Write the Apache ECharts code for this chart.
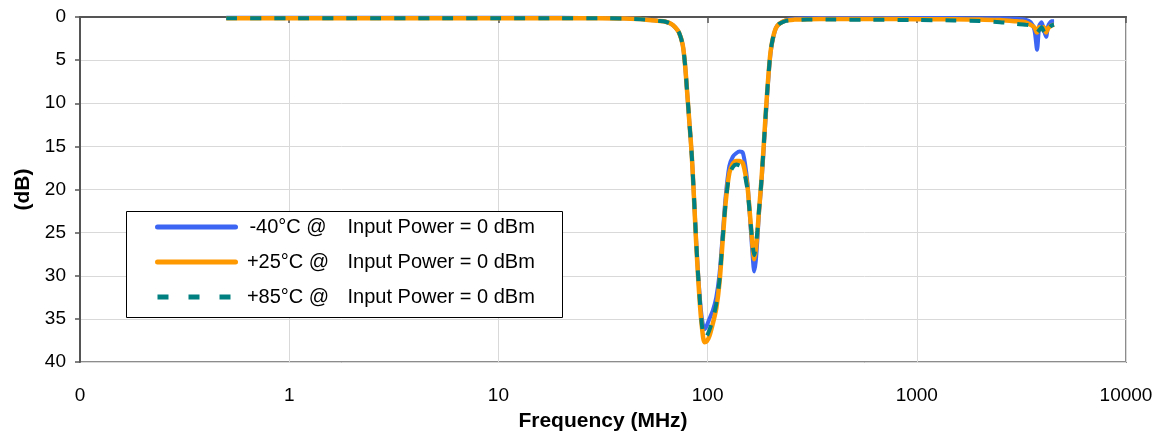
<!DOCTYPE html>
<html>
<head>
<meta charset="utf-8">
<script src="https://cdn.jsdelivr.net/npm/echarts@6/dist/echarts.min.js"></script>
<style>
  html, body { margin: 0; padding: 0; background: #fff; }
  #chart { width: 1160px; height: 437px; }
</style>
</head>
<body>
<div id="chart"></div>
<script>
// Frequency points (MHz)
const freq = [0.5, 1, 2, 5, 10, 20, 30, 40, 50, 58, 63, 67, 70, 73, 76, 78, 80, 82, 84, 86, 88, 90, 92, 94, 96.5, 99, 102, 106, 110, 114, 118, 122, 127, 132, 137, 142, 147, 151, 155, 158, 161, 164, 167, 170, 173, 176, 180, 184, 188, 192, 196, 200, 205, 212, 220, 237, 260, 300, 400, 600, 1000, 1500, 2000, 2500, 3000, 3300, 3500, 3650, 3757, 3850, 3950, 4050, 4150, 4250, 4400, 4530];

// Attenuation (dB)
const valsM40 = [0.1, 0.1, 0.1, 0.1, 0.1, 0.1, 0.12, 0.15, 0.25, 0.45, 0.55, 0.8, 1.2, 1.8, 3.2, 5.5, 9.0, 12.5, 16.0, 20.6, 25.5, 29.6, 32.8, 35.0, 36.2, 35.8, 35.0, 34.0, 32.5, 29.8, 25.3, 20.8, 17.3, 16.2, 15.8, 15.6, 15.7, 17.0, 19.2, 21.8, 24.8, 27.6, 29.5, 28.3, 25.8, 22.8, 19.9, 16.6, 13.0, 9.6, 6.6, 4.2, 2.6, 1.3, 0.8, 0.35, 0.2, 0.15, 0.12, 0.12, 0.12, 0.12, 0.15, 0.15, 0.2, 0.3, 0.6, 1.5, 3.8, 1.0, 0.6, 1.5, 2.3, 1.0, 0.5, 0.5];
const vals25 = [0.15, 0.15, 0.15, 0.15, 0.15, 0.15, 0.15, 0.18, 0.28, 0.45, 0.55, 0.8, 1.2, 1.8, 3.2, 5.5, 9.0, 12.5, 16.0, 20.8, 25.8, 30.0, 33.5, 36.0, 37.7, 37.6, 37.0, 35.5, 33.8, 30.8, 26.0, 21.5, 18.1, 17.0, 16.7, 16.7, 16.9, 18.0, 19.6, 21.8, 24.2, 26.5, 28.1, 27.0, 25.0, 22.5, 19.6, 16.2, 12.6, 9.2, 6.3, 4.0, 2.5, 1.3, 0.8, 0.4, 0.3, 0.25, 0.22, 0.22, 0.25, 0.25, 0.3, 0.35, 0.5, 0.6, 0.9, 1.2, 1.8, 1.2, 1.4, 1.2, 1.8, 1.3, 1.0, 0.9];
const vals85 = [0.15, 0.15, 0.15, 0.15, 0.15, 0.15, 0.15, 0.18, 0.28, 0.45, 0.55, 0.8, 1.2, 1.8, 3.2, 5.5, 9.0, 12.5, 16.0, 20.7, 25.6, 29.8, 33.2, 35.8, 37.2, 37.0, 36.3, 35.0, 33.3, 30.5, 25.8, 21.5, 18.3, 17.4, 17.1, 17.2, 17.4, 18.4, 20.0, 22.0, 24.2, 26.3, 27.6, 26.6, 24.8, 22.4, 19.6, 16.2, 12.6, 9.2, 6.3, 4.0, 2.5, 1.3, 0.8, 0.45, 0.35, 0.3, 0.3, 0.32, 0.35, 0.4, 0.45, 0.6, 0.8, 0.9, 1.0, 1.4, 1.8, 1.5, 1.2, 1.7, 2.1, 1.4, 1.0, 0.9];

const seriesNames = ['-40°C @  Input Power = 0 dBm', '+25°C @  Input Power = 0 dBm', '+85°C @  Input Power = 0 dBm'];
const legendLeft = ['-40°C @', '+25°C @', '+85°C @'];
const legendRight = 'Input Power = 0 dBm';
const xTickLabels = {0.1: '0', 1: '1', 10: '10', 100: '100', 1000: '1000', 10000: '10000'};

const FONT = '"Liberation Sans", Arial, sans-serif';

function pairs(vals) { return freq.map((f, i) => [f, vals[i]]); }

const chart = echarts.init(document.getElementById('chart'), null, { renderer: 'canvas' });
chart.setOption({
  backgroundColor: '#ffffff',
  animation: false,
  grid: { left: 80, right: 34, top: 17, bottom: 72, show: true, borderColor: '#8c8c8c', borderWidth: 2, backgroundColor: 'transparent' },
  xAxis: {
    type: 'log', logBase: 10, min: 0.1, max: 10000,
    name: 'Frequency (MHz)', nameLocation: 'middle', nameGap: 49,
    nameTextStyle: { fontFamily: FONT, fontSize: 21, fontWeight: 'bold', color: '#000' },
    axisLine: { show: true, lineStyle: { color: '#555', width: 2 } },
    axisTick: { show: true, length: 6, lineStyle: { color: '#555', width: 1.5 } },
    minorTick: { show: false },
    axisLabel: { fontFamily: FONT, fontSize: 19, color: '#000', margin: 24,
      formatter: v => (xTickLabels[v] !== undefined ? xTickLabels[v] : (v < 1 ? '0' : String(v))) },
    splitLine: { show: true, lineStyle: { color: '#d9d9d9', width: 1 } }
  },
  yAxis: {
    type: 'value', inverse: true, min: 0, max: 40, interval: 5,
    name: '(dB)', nameLocation: 'middle', nameGap: 40, nameRotate: 90,
    nameTextStyle: { fontFamily: FONT, fontSize: 21, fontWeight: 'bold', color: '#000' },
    axisLine: { show: true, lineStyle: { color: '#555', width: 2 } },
    axisTick: { show: true, length: 5, lineStyle: { color: '#555', width: 1.5 } },
    axisLabel: { fontFamily: FONT, fontSize: 19, color: '#000', margin: 14 },
    splitLine: { show: true, lineStyle: { color: '#d9d9d9', width: 1 } }
  },
  graphic: [{
    type: 'rect', left: 126, top: 211, z: 3,
    shape: { width: 436, height: 106 },
    style: { fill: '#fff', stroke: '#000', lineWidth: 1 }
  }],
  legend: {
    orient: 'vertical', left: 126, top: 211, z: 10,
    padding: [6, 10, 6, 29], itemWidth: 78, itemHeight: 20, itemGap: 15,
    selectedMode: false,
    itemStyle: { opacity: 0 },
    data: [
      { name: seriesNames[0], itemStyle: { opacity: 0 }, lineStyle: { width: 5, color: '#3b65f2', type: 'solid', cap: 'round' } },
      { name: seriesNames[1], itemStyle: { opacity: 0 }, lineStyle: { width: 5, color: '#ff9900', type: 'solid', cap: 'round' } },
      { name: seriesNames[2], itemStyle: { opacity: 0 }, lineStyle: { width: 5, color: '#008080', type: [11, 20], cap: 'butt' } }
    ],
    formatter: name => {
      const i = seriesNames.indexOf(name);
      return '{a|' + legendLeft[i] + '}{b|' + legendRight + '}';
    },
    textStyle: {
      fontFamily: FONT, fontSize: 20, color: '#000', lineHeight: 20,
      rich: {
        a: { fontFamily: FONT, fontSize: 20, color: '#000', width: 95, align: 'right', lineHeight: 20 },
        b: { fontFamily: FONT, fontSize: 20, color: '#000', padding: [0, 0, 0, 12], lineHeight: 20 }
      }
    }
  },
  series: [
    { name: seriesNames[0], type: 'line', data: pairs(valsM40), symbol: 'none', smooth: 0.25, z: 2,
      lineStyle: { color: '#3b65f2', width: 4 }, itemStyle: { color: '#3b65f2' } },
    { name: seriesNames[1], type: 'line', data: pairs(vals25), symbol: 'none', smooth: 0.25, z: 3,
      lineStyle: { color: '#ff9900', width: 4.5 }, itemStyle: { color: '#ff9900' } },
    { name: seriesNames[2], type: 'line', data: pairs(vals85), symbol: 'none', smooth: 0.25, z: 4,
      lineStyle: { color: '#008080', width: 4, type: [11, 13] }, itemStyle: { color: '#008080' } }
  ]
});
</script>
</body>
</html>
